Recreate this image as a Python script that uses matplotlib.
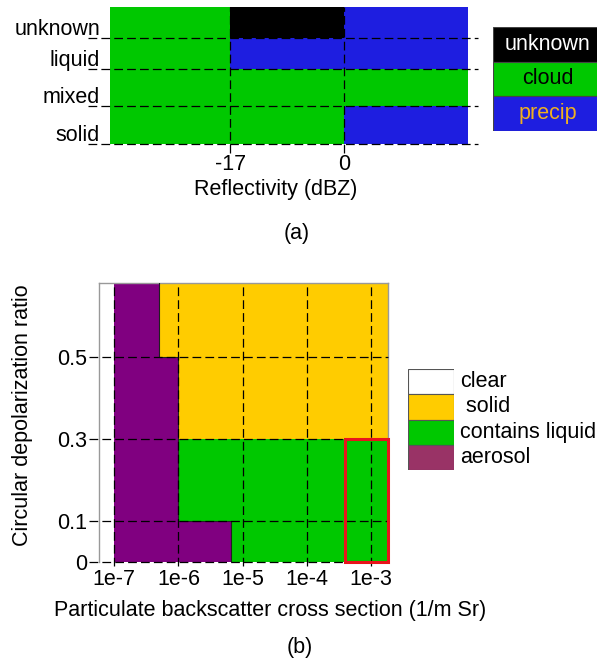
import numpy as np
import matplotlib
matplotlib.use('Agg')
import matplotlib.pyplot as plt
from matplotlib.colors import ListedColormap
from matplotlib import transforms

plt.rcParams['font.family'] = ['Liberation Sans', 'DejaVu Sans']

# ---- panel (a): radar reflectivity vs phase ----
a_rows = ['solid', 'mixed', 'liquid', 'unknown']
a_row_edges = [0, 1, 1.97, 2.79, 3.62]
a_x_edges = [-35, -17, 0, 18.5]
a_xticks = [-17, 0]
# 0 unknown, 1 cloud, 2 precip
a_grid = [[1, 1, 2],
          [1, 1, 1],
          [1, 2, 2],
          [1, 0, 2]]
a_leg_labels = ['unknown', 'cloud', 'precip']
a_colors = ['#000000', '#00c800', '#1e1ee0']
a_text_colors = ['white', 'black', '#f0b020']

# ---- panel (b): lidar backscatter vs depolarization ----
b_x_edges = [10 ** -7.234, 1e-7, 5e-7, 1e-6, 6.5e-6, 10 ** -2.74]
b_y_edges = [0, 0.1, 0.3, 0.5, 0.68]
# 0 clear, 1 solid, 2 contains liquid, 3 aerosol
b_grid = [[0, 3, 3, 3, 2],
          [0, 3, 3, 2, 2],
          [0, 3, 3, 1, 1],
          [0, 3, 1, 1, 1]]
b_xticks = [1e-7, 1e-6, 1e-5, 1e-4, 1e-3]
b_xticklabels = ['1e-7', '1e-6', '1e-5', '1e-4', '1e-3']
b_yticks = [0, 0.1, 0.3, 0.5]
b_yticklabels = ['0', '0.1', '0.3', '0.5']
b_box = (4e-4, 0.0, 0.3)  # x start, y bottom, y top of the red box
b_leg_labels = ['clear', ' solid', 'contains liquid', 'aerosol']
b_colors = ['#ffffff', '#ffcc00', '#00c800', '#800080']
b_leg_colors = ['#ffffff', '#ffcc00', '#00c800', '#993366']

W, H = 597, 661
FS = 15.5
dash = dict(color='black', lw=0.9, dashes=(7, 3.3))


def px_axes(x0, y0, x1, y1):
    # pixel box (top-left origin) -> figure fraction
    return [x0 / W, 1 - y1 / H, (x1 - x0) / W, (y1 - y0) / H]


fig = plt.figure(figsize=(W / 100, H / 100), dpi=100)

# panel (a)
ax = fig.add_axes(px_axes(109.7, 6.7, 467.6, 144))
ax.pcolormesh(a_x_edges, a_row_edges, np.array(a_grid), cmap=ListedColormap(a_colors), vmin=-0.5, vmax=2.5)
ax.set_xlim(a_x_edges[0], a_x_edges[-1])
ax.set_ylim(a_row_edges[0], a_row_edges[-1])
for s in ax.spines.values():
    s.set_visible(False)
ax.set_yticks([])
ax.set_xticks(a_xticks)
ax.set_xticklabels([str(v) for v in a_xticks], fontsize=FS)
ax.tick_params(axis='x', length=0, pad=7)
ax.set_xlabel('Reflectivity (dBZ)', fontsize=FS)
ax.xaxis.set_label_coords(0.465, -0.335)
ax.xaxis.label.set_va('center')

tr = transforms.blended_transform_factory(ax.transAxes, ax.transData)
for y in a_row_edges[:-1]:
    ax.plot([-0.062, 1.029], [y, y], transform=tr, clip_on=False, **dash)
tr_lbl = transforms.offset_copy(tr, fig=fig, y=3, units='dots')
for y, name in zip(a_row_edges[:-1], a_rows):
    ax.text(-0.027, y, name, transform=tr_lbl, ha='right', va='baseline', fontsize=FS)
trv = transforms.blended_transform_factory(ax.transData, ax.transAxes)
for x in a_xticks:
    ax.plot([x, x], [-0.066, 1], transform=trv, clip_on=False, **dash)

# legend (a)
lg = fig.add_axes(px_axes(493, 27, 600, 131))
n = len(a_leg_labels)
lg.barh(np.arange(n)[::-1], [1] * n, height=1, left=0, color=a_colors, edgecolor='#444444', lw=0.8)
for i, (lab, tc) in enumerate(zip(a_leg_labels, a_text_colors)):
    lg.text(0.51, n - 1 - i, lab, color=tc, ha='center', va='center', fontsize=FS)
lg.set_xlim(0, 1)
lg.set_ylim(-0.5, n - 0.5)
lg.axis('off')

fig.text(297 / W, 1 - 233 / H, '(a)', ha='center', va='center', fontsize=FS)

# panel (b)
bx = fig.add_axes(px_axes(99.3, 282.7, 387.7, 562.3))
bx.set_xscale('log')
bx.pcolormesh(b_x_edges, b_y_edges, np.array(b_grid), cmap=ListedColormap(b_colors), vmin=-0.5, vmax=3.5)
bx.set_xlim(b_x_edges[0], b_x_edges[-1])
bx.set_ylim(b_y_edges[0], b_y_edges[-1])
for s in bx.spines.values():
    s.set_color('#999999')
    s.set_linewidth(1)
bx.spines['bottom'].set_visible(False)
bx.set_xticks(b_xticks)
bx.set_xticklabels(b_xticklabels, fontsize=FS)
bx.xaxis.set_minor_locator(matplotlib.ticker.NullLocator())
bx.set_yticks(b_yticks)
bx.set_yticklabels(b_yticklabels, fontsize=FS)
bx.tick_params(axis='x', length=0, pad=5)
bx.tick_params(axis='y', length=0, pad=9)

# thin dark outline along the right edge of the aerosol area
grid = np.array(b_grid)
ox, oy = [], []
for r in range(grid.shape[0]):
    right = b_x_edges[np.where(grid[r] == 3)[0].max() + 1]
    ox += [right, right]
    oy += [b_y_edges[r], b_y_edges[r + 1]]
bx.plot(ox, oy, color='#202020', lw=0.8, zorder=3)

bx.add_patch(plt.Rectangle((b_box[0], b_box[1]), b_x_edges[-1] - b_box[0], b_box[2] - b_box[1],
                           fill=False, edgecolor='#e8141c', lw=2.2, zorder=5, clip_on=False))

trb = transforms.blended_transform_factory(bx.transAxes, bx.transData)
for y in b_yticks:
    bx.plot([-0.035, 1], [y, y], transform=trb, clip_on=False, zorder=4, **dash)
trbv = transforms.blended_transform_factory(bx.transData, bx.transAxes)
for x in b_xticks:
    bx.plot([x, x], [-0.013, 1], transform=trbv, clip_on=False, zorder=4, **dash)

bx.set_xlabel('Particulate backscatter cross section (1/m Sr)', fontsize=FS)
bx.xaxis.set_label_coords(0.592, -0.171)
bx.xaxis.label.set_va('center')
bx.set_ylabel('Circular depolarization ratio', fontsize=FS)
bx.yaxis.set_label_coords(-0.268, 0.527)
bx.yaxis.label.set_va('center')

# legend (b)
lb = fig.add_axes(px_axes(408, 369, 454, 470))
m = len(b_leg_labels)
lb.barh(np.arange(m)[::-1], [1] * m, height=1, left=0, color=b_leg_colors, edgecolor='#555555', lw=0.8)
for i, lab in enumerate(b_leg_labels):
    lb.text(1.13, m - 1 - i, lab, ha='left', va='center', fontsize=FS, clip_on=False)
lb.set_xlim(0, 1)
lb.set_ylim(-0.5, m - 0.5)
lb.axis('off')

fig.text(300 / W, 1 - 648 / H, '(b)', ha='center', va='center', fontsize=FS)

fig.savefig('out.png', dpi=100)
